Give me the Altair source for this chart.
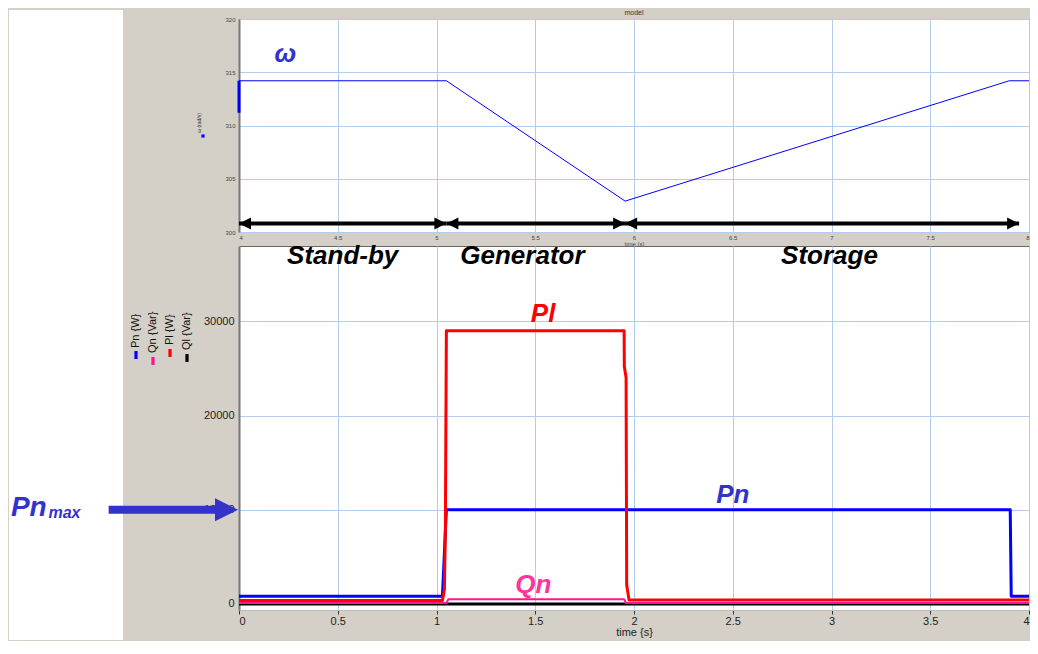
import altair as alt
import pandas as pd

# ---------------- data ----------------
# top panel : rotor speed omega (rad/s) vs time (s)
w_time = [4.0, 4.0, 5.05, 5.955, 7.9, 8.0]
w_speed = [311.2, 314.2, 314.2, 302.9, 314.2, 314.2]

# operating phases (double arrows in the top panel, labels in the bottom panel)
phase_start = [4.0, 5.05, 5.955]
phase_end = [5.05, 5.955, 7.95]
phase_level = [300.8, 300.8, 300.8]
phase_names = ["Stand-by", "Generator", "Storage"]
phase_label_t = [0.525, 1.435, 2.99]
phase_label_v = [36900, 36900, 36900]

# bottom panel : powers vs time (s)
pn_time = [0.0, 1.03, 1.05, 3.905, 3.91, 4.0]
pn_val = [800, 800, 10000, 10000, 800, 800]
qn_time = [0.0, 1.05, 1.06, 1.95, 1.96, 4.0]
qn_val = [100, 100, 500, 500, 100, 100]
pl_time = [0.0, 1.03, 1.04, 1.045, 1.05, 1.95, 1.951, 1.96, 1.963, 1.975, 4.0]
pl_val = [350, 350, 1500, 8000, 29000, 29000, 25200, 24000, 2000, 400, 400]
ql_time = [0.0, 4.0]
ql_val = [0, 0]

series_names = ["Pn {W}", "Qn {Var}", "Pl {W}", "Ql {Var}"]
series_colors = ["#0000ff", "#ff1493", "#ff0000", "#000000"]

top_x_ticks = [4, 4.5, 5, 5.5, 6, 6.5, 7, 7.5, 8]
top_y_ticks = [300, 305, 310, 315, 320]
bot_x_ticks = [0, 0.5, 1, 1.5, 2, 2.5, 3, 3.5, 4]
bot_y_ticks = [0, 10000, 20000, 30000]

curve_labels = ["Pl", "Pn", "Qn"]
curve_label_t = [1.54, 2.5, 1.49]
curve_label_v = [30800, 11600, 2000]
curve_label_colors = ["#ff0000", "#3333cc", "#ff3399"]

omega_text = ["ω"]
omega_t = [4.235]
omega_v = [316.7]

pnmax_arrow_t = [-0.66]
pnmax_arrow_t2 = [-0.06]
pnmax_tip_t = [-0.005]
pnmax_level = [10000]
pnmax_text = ["Pn", "max"]
pnmax_text_t = [-1.155, -0.965]
pnmax_text_v = [10200, 9600]

# ---------------- style ----------------
FONT = "Liberation Sans"
GRID = "#b0cdee"
W = 790
H_TOP = 213
H_BOT = 364
RIGHT_TIP = "M0,0L-1,-0.5L-1,0.5Z"
LEFT_TIP = "M0,0L1,-0.5L1,0.5Z"
BAR_PATH = "M-0.4,-1L0.4,-1L0.4,1L-0.4,1Z"

decor = alt.Chart(pd.DataFrame({"k": [0]}))

# ---------------- top panel ----------------
xt = alt.X("t:Q", scale=alt.Scale(domain=[4, 8], nice=False, zero=False),
           axis=alt.Axis(values=top_x_ticks, title="time (s)", format="~g",
                         labelFontSize=6, titleFontSize=6, titleFontWeight="normal",
                         ticks=False, labelPadding=2, titlePadding=0,
                         gridColor=GRID, domain=False, labelFlush=True,
                         labelColor="#444", titleColor="#444"))
yt = alt.Y("v:Q", scale=alt.Scale(domain=[300, 320], nice=False, zero=False),
           axis=alt.Axis(values=top_y_ticks, title=None, format="~g",
                         labelFontSize=6, ticks=False, labelPadding=4,
                         gridColor=GRID, domainColor="#777", domainWidth=2,
                         labelColor="#444"))

df_w = pd.DataFrame({"t": w_time, "v": w_speed, "i": list(range(len(w_time)))})
omega_line = alt.Chart(df_w).mark_line(color="#0000ff", strokeWidth=1, clip=True,
                                       strokeJoin="round").encode(x=xt, y=yt, order="i:Q")
omega_start = alt.Chart(df_w.iloc[:2]).mark_line(color="#0000ff", strokeWidth=3,
                                                 strokeJoin="round").encode(x=xt, y=yt, order="i:Q")

df_ph = pd.DataFrame({"t": phase_start, "t2": phase_end, "v": phase_level})
shafts = alt.Chart(df_ph).mark_rule(color="black", strokeWidth=4).encode(x=xt, x2="t2:Q", y=yt)
heads_r = alt.Chart(pd.DataFrame({"t": phase_end, "v": phase_level})).mark_point(
    shape=RIGHT_TIP, size=576, filled=True, color="black", opacity=1, strokeWidth=0).encode(x=xt, y=yt)
heads_l = alt.Chart(pd.DataFrame({"t": phase_start, "v": phase_level})).mark_point(
    shape=LEFT_TIP, size=576, filled=True, color="black", opacity=1, strokeWidth=0).encode(x=xt, y=yt)

omega_lbl = alt.Chart(pd.DataFrame({"t": omega_t, "v": omega_v, "s": omega_text})).mark_text(
    font=FONT, fontSize=26, fontWeight="bold", fontStyle="italic", color="#3333cc").encode(x=xt, y=yt, text="s:N")

ytitle = decor.mark_text(text="ω (rad/s)", angle=270, fontSize=5, font=FONT, color="#333",
                         baseline="middle").encode(x=alt.value(-40), y=alt.value(104))
ysq = decor.mark_point(shape="square", size=10, filled=True, color="#0000ff", opacity=1).encode(
    x=alt.value(-36), y=alt.value(117))
model_title = decor.mark_text(text="model", fontSize=7, font=FONT, color="#333",
                              baseline="middle").encode(x=alt.value(W / 2), y=alt.value(-6))

top = alt.layer(omega_line, omega_start, shafts, heads_r, heads_l, omega_lbl,
                ytitle, ysq, model_title).properties(width=W, height=H_TOP)

# ---------------- bottom panel ----------------
xb = alt.X("t:Q", scale=alt.Scale(domain=[0, 4], nice=False, zero=False),
           axis=alt.Axis(values=bot_x_ticks, title="time {s}", format="~g",
                         labelFontSize=11, titleFontSize=11, titleFontWeight="normal",
                         tickSize=4, tickColor="#333", labelPadding=1, titlePadding=0,
                         gridColor=GRID, domainColor="#bbb", labelFlush=True,
                         labelColor="#222", titleColor="#222"))
yb = alt.Y("v:Q", scale=alt.Scale(domain=[-650, 38000], nice=False, zero=False),
           axis=alt.Axis(values=bot_y_ticks, format="d", title=None,
                         labelFontSize=11, ticks=False, labelPadding=5,
                         gridColor=GRID, domainColor="#777", domainWidth=2,
                         labelColor="#222"))

white_strip = decor.mark_rect(color="white").encode(
    x=alt.value(-230), x2=alt.value(-116), y=alt.value(-236), y2=alt.value(H_BOT + 30))


def series(ts, vs, color, width):
    df = pd.DataFrame({"t": ts, "v": vs, "i": list(range(len(ts)))})
    return alt.Chart(df).mark_line(color=color, strokeWidth=width, clip=True,
                                   strokeJoin="round").encode(x=xb, y=yb, order="i:Q")


ql = series(ql_time, ql_val, series_colors[3], 3)
pn = series(pn_time, pn_val, series_colors[0], 3)
qn = series(qn_time, qn_val, series_colors[1], 2)
pl = series(pl_time, pl_val, series_colors[2], 3)

phase_lbl = alt.Chart(pd.DataFrame({"t": phase_label_t, "v": phase_label_v, "s": phase_names})).mark_text(
    font=FONT, fontSize=26, fontWeight="bold", fontStyle="italic", color="black").encode(x=xb, y=yb, text="s:N")

curve_lbl = alt.Chart(pd.DataFrame({"t": curve_label_t, "v": curve_label_v, "s": curve_labels,
                                    "c": curve_label_colors})).mark_text(
    font=FONT, fontSize=26, fontWeight="bold", fontStyle="italic").encode(
    x=xb, y=yb, text="s:N", color=alt.Color("c:N", scale=None))

pm_shaft = alt.Chart(pd.DataFrame({"t": pnmax_arrow_t, "t2": pnmax_arrow_t2, "v": pnmax_level})).mark_rule(
    color="#3333cc", strokeWidth=8).encode(x=xb, x2="t2:Q", y=yb)
pm_head = alt.Chart(pd.DataFrame({"t": pnmax_tip_t, "v": pnmax_level})).mark_point(
    shape=RIGHT_TIP, size=2116, filled=True, color="#3333cc", opacity=1, strokeWidth=0).encode(x=xb, y=yb)
pm_text1 = alt.Chart(pd.DataFrame({"t": pnmax_text_t[:1], "v": pnmax_text_v[:1], "s": pnmax_text[:1]})).mark_text(
    font=FONT, fontSize=28, fontWeight="bold", fontStyle="italic", color="#3333cc", align="left").encode(
    x=xb, y=yb, text="s:N")
pm_text2 = alt.Chart(pd.DataFrame({"t": pnmax_text_t[1:], "v": pnmax_text_v[1:], "s": pnmax_text[1:]})).mark_text(
    font=FONT, fontSize=16, fontWeight="bold", fontStyle="italic", color="#3333cc", align="left").encode(
    x=xb, y=yb, text="s:N")

legend_layout = [(-103, 102, 109), (-86, 107, 115), (-69, 99, 107), (-52, 104, 112)]
legend_layers = []
for name, color, (lx, ty, sy) in zip(series_names, series_colors, legend_layout):
    legend_layers.append(decor.mark_text(text=name, angle=270, align="left", baseline="middle",
                                         fontSize=11, font=FONT, color="#111").encode(
        x=alt.value(lx), y=alt.value(ty)))
    legend_layers.append(decor.mark_point(shape=BAR_PATH, size=64, filled=True, color=color,
                                          opacity=1, strokeWidth=0).encode(
        x=alt.value(lx), y=alt.value(sy)))

bottom = alt.layer(white_strip, ql, pn, qn, pl, phase_lbl, curve_lbl,
                   pm_shaft, pm_head, pm_text1, pm_text2, *legend_layers).properties(
    width=W, height=H_BOT)

chart = alt.vconcat(top, bottom, spacing=14, bounds="flush",
                    padding={"left": 0, "right": 0, "top": 0, "bottom": 0},
                    background="#d4d0c8").configure_view(
    stroke="#666", fill="white").configure_axis(labelFont=FONT, titleFont=FONT)

chart.save("out.html", embed_options={"renderer": "svg", "actions": False})
